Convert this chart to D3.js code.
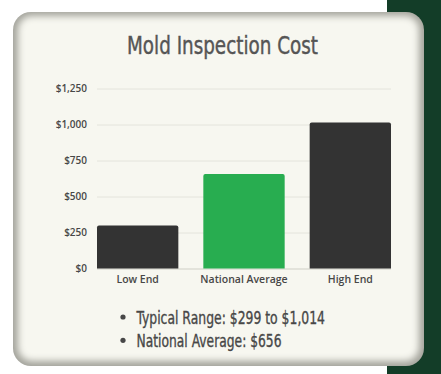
<!DOCTYPE html>
<html>
<head>
<meta charset="utf-8">
<script src="https://cdn.jsdelivr.net/npm/d3@7"></script>
<style>
	html, body { margin: 0; padding: 0; background: #ffffff; }
	svg { display: block; }
</style>
</head>
<body>
<div id="chart"></div>
<script>
const categories = ['Low End', 'National Average', 'High End'];
const costs = [299, 656, 1014];
const yTicks = [0, 250, 500, 750, 1000, 1250];
const notes = ['Typical Range: $299 to $1,014', 'National Average: $656'];

const WIDTH = 441;
const HEIGHT = 374;
const CARD = {x: 13, y: 12, w: 411, h: 354, r: 18};
const margin = {left: 97, right: 50, top: 88.5, bottom: 105.5};
const FONT_FAMILY = '"Open Sans", "Noto Sans", sans-serif';
const TITLE_FONT = '"DejaVu Sans Condensed", "Liberation Sans Narrow", sans-serif';
const GRID_COLOR = '#e4e4dc';
const TEXT_COLOR = '#474747';

const svg = d3.select('#chart').append('svg')
	.attr('width', WIDTH)
	.attr('height', HEIGHT);

const defs = svg.append('defs');
defs.append('filter')
	.attr('id', 'soft')
	.attr('x', '-10%').attr('y', '-10%')
	.attr('width', '120%').attr('height', '120%')
	.append('feGaussianBlur')
	.attr('stdDeviation', 3.5);
defs.append('clipPath')
	.attr('id', 'card-clip')
	.append('rect')
	.attr('x', CARD.x).attr('y', CARD.y)
	.attr('width', CARD.w).attr('height', CARD.h)
	.attr('rx', CARD.r);

// green backdrop on the right
svg.append('rect')
	.attr('x', 387).attr('y', 0)
	.attr('width', WIDTH - 387).attr('height', HEIGHT)
	.attr('fill', '#133d28');

// card with shaded edges
const card = svg.append('g').attr('clip-path', 'url(#card-clip)');
card.append('rect')
	.attr('x', CARD.x).attr('y', CARD.y)
	.attr('width', CARD.w).attr('height', CARD.h)
	.attr('fill', '#a4a49c');
card.append('rect')
	.attr('x', CARD.x + 5).attr('y', CARD.y + 4)
	.attr('width', CARD.w - 10).attr('height', CARD.h - 9)
	.attr('rx', CARD.r - 4)
	.attr('fill', '#f7f7f0')
	.attr('filter', 'url(#soft)');

// title
svg.append('text')
	.attr('x', 222.5)
	.attr('y', 54)
	.attr('text-anchor', 'middle')
	.attr('textLength', 191)
	.attr('lengthAdjust', 'spacingAndGlyphs')
	.style('font-family', TITLE_FONT)
	.style('font-size', '24px')
	.attr('fill', '#555555')
	.attr('stroke', '#555555')
	.attr('stroke-width', 0.4)
	.text('Mold Inspection Cost');

const x = d3.scaleBand()
	.domain(categories)
	.range([margin.left, WIDTH - margin.right])
	.paddingInner(0.235)
	.paddingOuter(0);

const y = d3.scaleLinear()
	.domain([0, 1250])
	.range([HEIGHT - margin.bottom, margin.top]);

// y axis with gridlines
svg.append('g')
	.attr('class', 'y-axis')
	.attr('transform', `translate(${margin.left},0)`)
	.call(d3.axisLeft(y)
		.tickValues(yTicks)
		.tickSize(-(WIDTH - margin.left - margin.right))
		.tickPadding(10)
		.tickFormat(d => '$' + d3.format(',')(d)))
	.call(g => g.select('.domain').remove())
	.call(g => g.selectAll('line')
		.attr('stroke', d => d === 0 ? '#dcdcd4' : GRID_COLOR)
		.attr('stroke-width', d => d === 0 ? 1.5 : 1))
	.call(g => g.selectAll('text')
		.attr('fill', TEXT_COLOR)
		.style('font-family', FONT_FAMILY)
		.style('font-size', '10px')
		.style('font-weight', 600));

// bars
svg.append('g')
	.attr('class', 'bars')
	.selectAll('path')
	.data(categories)
	.join('path')
	.attr('fill', (d, i) => i === 1 ? '#28ad50' : '#333333')
	.attr('d', (d, i) => {
		const x0 = x(d), w = x.bandwidth();
		const top = y(costs[i]), base = y(0), r = 2;
		return `M${x0},${base}V${top + r}Q${x0},${top} ${x0 + r},${top}` +
			`H${x0 + w - r}Q${x0 + w},${top} ${x0 + w},${top + r}V${base}Z`;
	});

// x axis labels
svg.append('g')
	.attr('class', 'x-axis')
	.attr('transform', `translate(0,${y(0)})`)
	.call(d3.axisBottom(x).tickSize(0).tickPadding(7))
	.call(g => g.select('.domain').remove())
	.call(g => g.selectAll('text')
		.attr('fill', TEXT_COLOR)
		.style('font-family', FONT_FAMILY)
		.style('font-size', '10.5px')
		.style('font-weight', 600));

// bullet notes
const noteG = svg.append('g').attr('class', 'notes');
noteG.selectAll('circle')
	.data(notes)
	.join('circle')
	.attr('cx', 123)
	.attr('cy', (d, i) => 317 + i * 23.3)
	.attr('r', 2.6)
	.attr('fill', TEXT_COLOR);
noteG.selectAll('text')
	.data(notes)
	.join('text')
	.attr('x', 136.5)
	.attr('y', (d, i) => 323.5 + i * 23.3)
	.attr('textLength', (d, i) => i === 0 ? 188.5 : 145)
	.attr('lengthAdjust', 'spacingAndGlyphs')
	.style('font-family', TITLE_FONT)
	.style('font-size', '18px')
	.attr('fill', TEXT_COLOR)
	.attr('stroke', TEXT_COLOR)
	.attr('stroke-width', 0.35)
	.text(d => d);
</script>
</body>
</html>
